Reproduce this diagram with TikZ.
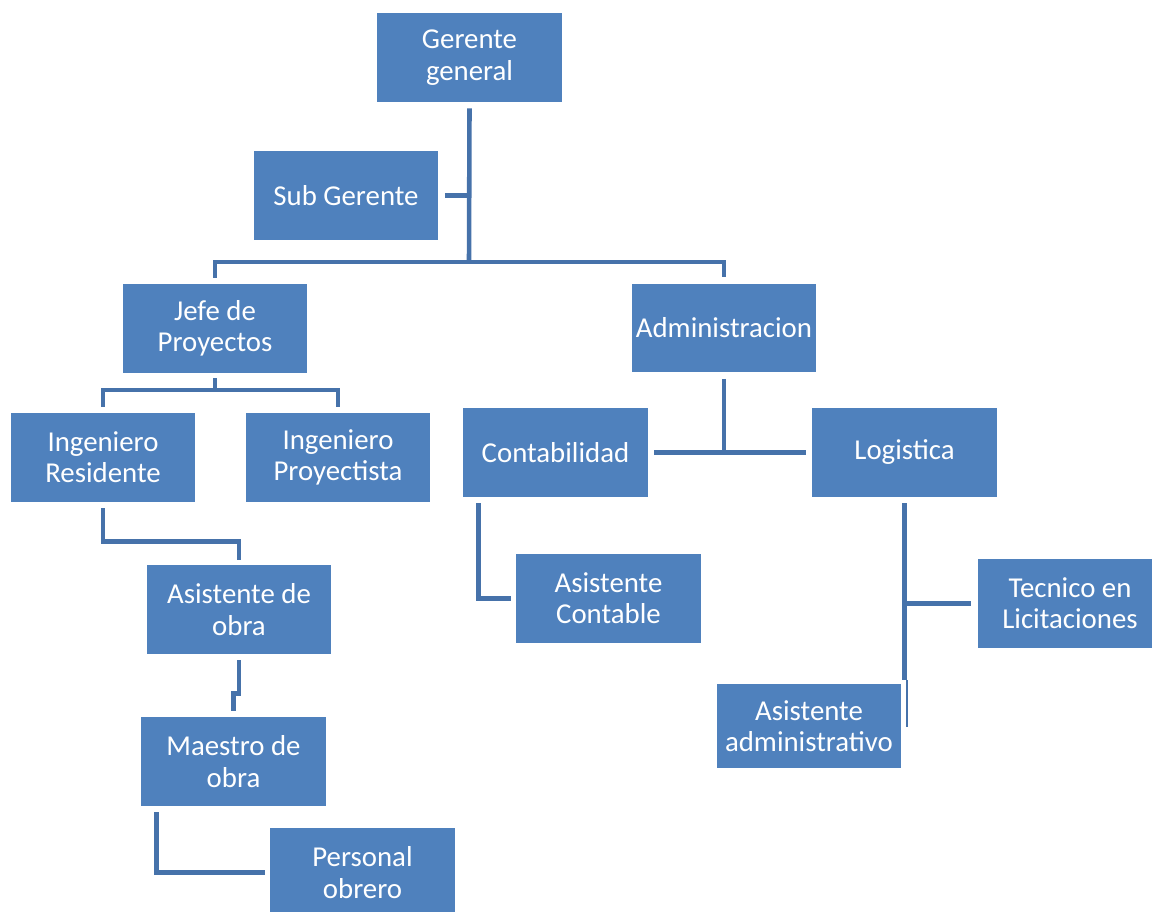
\documentclass[tikz,border=0pt]{standalone}
\usepackage{fontspec}
\setmainfont{Carlito}
\usetikzlibrary{calc}
\definecolor{boxblue}{RGB}{79,129,189}
\definecolor{lineblue}{RGB}{70,114,170}
\tikzset{
  orgbox/.style = {shape=rectangle, fill=boxblue, draw=none,
                   text=white, align=center, inner sep=0pt,
                   minimum width=3.7cm, minimum height=1.78cm,
                   font=\fontsize{16.4}{17.8}\selectfont},
  orgbox2/.style = {orgbox, minimum height=1.68cm},
  link/.style   = {draw=lineblue, line width=2.6pt},
  thinlink/.style = {link, line width=0.8pt},
}

\begin{document}
\begin{tikzpicture}[x=0.02cm, y=-0.02cm]
  \useasboundingbox (0,0) rectangle (1152,912);
  \node[orgbox] (gerente)  at (469.5,57.5)  {Gerente\\general};
  \node[orgbox] (sub)      at (346,195.5)   {Sub Gerente};
  \node[orgbox] (jefe)     at (215,328.5)   {Jefe de\\Proyectos};
  \node[orgbox] (admin)    at (724,328)     {Administracion};
  \node[orgbox] (ingres)   at (103,457.5)   {Ingeniero\\Residente};
  \node[orgbox] (ingproy)  at (338,457.5)   {Ingeniero\\Proyectista};
  \node[orgbox] (conta)    at (555.5,452.5) {Contabilidad};
  \node[orgbox] (logis)    at (904.5,452.5) {Logistica};
  \node[orgbox] (asobra)   at (239,609.5)   {Asistente de\\obra};
  \node[orgbox] (maestro)  at (233.5,761.5) {Maestro de\\obra};
  \node[orgbox] (personal) at (362.5,872.5) {Personal\\obrero};
  \node[orgbox] (ascont)   at (608.5,598.5) {Asistente\\Contable};
  \node[orgbox] (tecnico)  at (1070,603.5)  {Tecnico en\\Licitaciones};
  \node[orgbox2] (asadm)   at (809,726)     {Asistente\\administrativo};

  % top of the chart
  \coordinate (j0) at (469,262);
  \draw[link] ([yshift=-0.12cm]gerente.south) -- (j0);
  \draw[link] ([xshift=0.12cm]sub.east) -- (sub.east -| j0);
  \draw[link] ([yshift=0.12cm]jefe.north) |- (j0) -| ([yshift=0.12cm]admin.north);

  % proyectos
  \coordinate (j1) at (215,390);
  \draw[link] ([yshift=-0.1cm]jefe.south) -- (j1);
  \draw[link] ([yshift=0.12cm]ingres.north) |- (j1) -| ([yshift=0.12cm]ingproy.north);
  \draw[link] ([yshift=-0.12cm]ingres.south) -- ++(0,33) -| ([yshift=0.1cm]asobra.north);
  \draw[link] ([yshift=-0.12cm]asobra.south) -- ++(0,33) -| ([yshift=0.12cm]maestro.north);
  \draw[link] ([shift={(16,6)}]maestro.south west) |- ([xshift=-0.1cm]personal.west);

  % administracion
  \draw[link] ([yshift=-0.12cm]admin.south) -- (admin.south |- conta.east);
  \draw[link] ([xshift=0.12cm]conta.east) -- ([xshift=-0.12cm]logis.west);
  \draw[link] ([shift={(16,6)}]conta.south west) |- ([xshift=-0.1cm]ascont.west);
  \draw[link] ([yshift=-0.12cm]logis.south) -- ++(0,177) coordinate (lg);
  \draw[link] (lg |- tecnico.west) -- ([xshift=-0.12cm]tecnico.west);
  \draw[thinlink] ([xshift=0.05cm]lg) -- ++(0,47);
\end{tikzpicture}
\end{document}
